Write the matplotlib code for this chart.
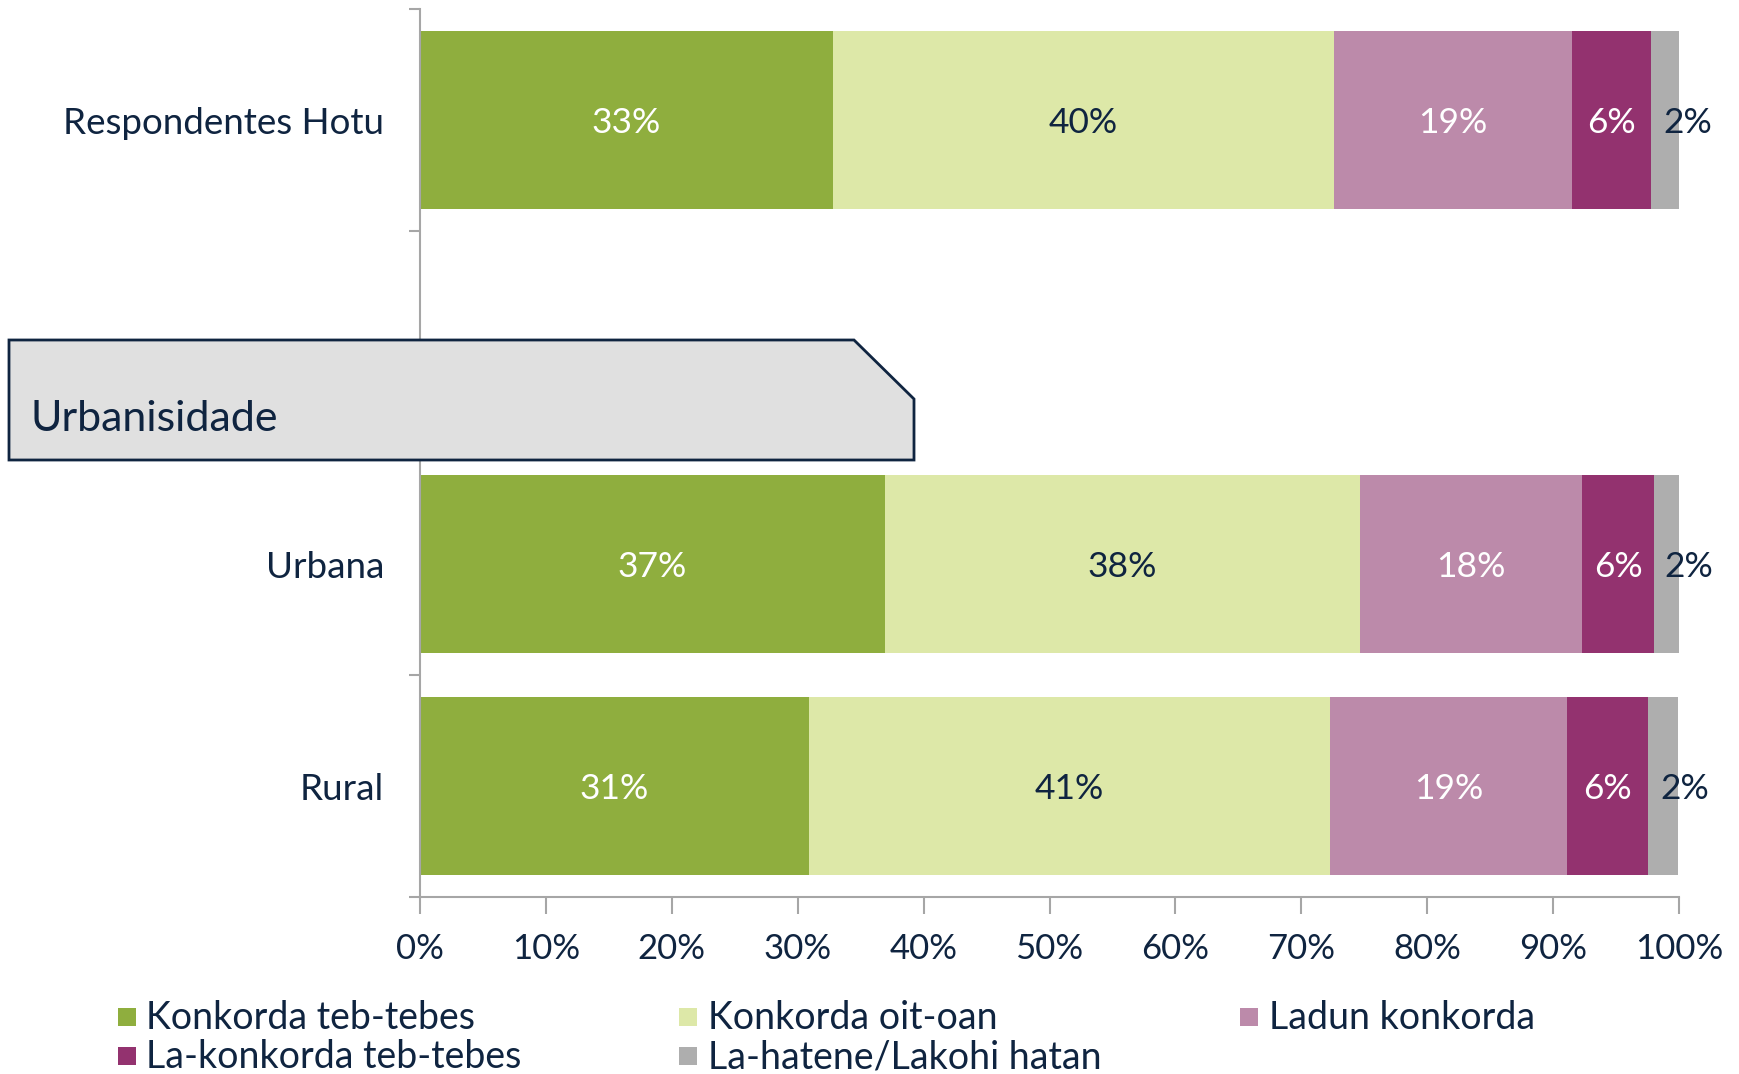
import matplotlib
matplotlib.use("Agg")
import matplotlib.pyplot as plt
from matplotlib.patches import Polygon, Rectangle

plt.rcParams['font.family'] = ['Lato', 'DejaVu Sans']

categories = ["Respondentes Hotu", "", "Urbana", "Rural"]
series_names = ["Konkorda teb-tebes", "Konkorda oit-oan", "Ladun konkorda",
                "La-konkorda teb-tebes", "La-hatene/Lakohi hatan"]
values = {
    "Konkorda teb-tebes":     [32.8, None, 36.9, 30.9],
    "Konkorda oit-oan":       [39.8, None, 37.8, 41.4],
    "Ladun konkorda":         [18.9, None, 17.6, 18.8],
    "La-konkorda teb-tebes":  [6.3, None, 5.7, 6.4],
    "La-hatene/Lakohi hatan": [2.2, None, 2.0, 2.4],
}
colors = ["#8FAE3E", "#DDE8A8", "#BC8AAA", "#93326F", "#AEAEAE"]
label_colors = ["white", "#0F2440", "white", "white", "#0F2440"]
xticks = [0, 10, 20, 30, 40, 50, 60, 70, 80, 90, 100]
section_label = "Urbanisidade"

NAVY = "#0F2440"
W, H = 1739, 1074
fig = plt.figure(figsize=(W / 100, H / 100), dpi=100)
ax = fig.add_axes([420 / W, 1 - 897 / H, (1679 - 420) / W, (897 - 9) / H])

ypos = list(range(len(categories)))
lefts = [0.0] * len(categories)
for si, name in enumerate(series_names):
    vals = values[name]
    for i, v in enumerate(vals):
        if v is None:
            continue
        ax.barh(ypos[i], v, left=lefts[i], height=0.8, color=colors[si], zorder=2)
        cx = lefts[i] + v / 2
        off = 16 if si == len(series_names) - 1 else 0
        ax.annotate(f"{round(v)}%", (cx, ypos[i]), xytext=(off, -2.5), textcoords="offset points",
                    ha="center", va="center", color=label_colors[si], fontsize=25.5, zorder=3)
        lefts[i] += v

ax.set_xlim(0, 100)
ax.set_ylim(len(categories) - 0.5, -0.5)
ax.set_xticks(xticks)
ax.set_xticklabels([f"{t}%" for t in xticks], fontsize=25, color=NAVY)
ax.set_yticks([i - 0.5 for i in range(len(categories) + 1)])
ax.set_yticklabels([])
ax.set_yticks(ypos, minor=True)
ax.set_yticklabels(categories, minor=True, fontsize=26.5, color=NAVY)
ax.tick_params(axis="y", which="minor", length=0, pad=26)
ax.tick_params(axis="y", which="major", length=8, color="#A6A6A6", width=1.5)
ax.tick_params(axis="x", which="major", length=12, color="#A6A6A6", width=1.5, pad=14)
for s in ["top", "right"]:
    ax.spines[s].set_visible(False)
for s in ["left", "bottom"]:
    ax.spines[s].set_color("#A6A6A6")
    ax.spines[s].set_linewidth(1.5)

# section box
x0, x1, xc = 9 / W, 914 / W, 854 / W
y_top, y_bot, yc = 1 - 340 / H, 1 - 460 / H, 1 - 399 / H
poly = Polygon([(x0, y_top), (xc, y_top), (x1, yc), (x1, y_bot), (x0, y_bot)], closed=True,
               transform=fig.transFigure, facecolor="#E0E0E0", edgecolor=NAVY, linewidth=2, zorder=10)
fig.patches.append(poly)
fig.text(30 / W, 1 - 419 / H, section_label, fontsize=31, color=NAVY, ha="left", va="center", zorder=11)

# legend (row-major, 3 columns)
col_x = [117.5, 679, 1240]
row_y = [1017, 1056]
sq = 18
for k, name in enumerate(series_names):
    r, c = divmod(k, 3)
    x, y = col_x[c], row_y[r]
    fig.patches.append(Rectangle((x / W, 1 - (y + sq / 2) / H), sq / W, sq / H,
                                 transform=fig.transFigure, facecolor=colors[k], edgecolor="none"))
    fig.text((x + 29) / W, 1 - (y + 1) / H, name, fontsize=27, color=NAVY, ha="left", va="center")

fig.savefig("out.png", dpi=100)
